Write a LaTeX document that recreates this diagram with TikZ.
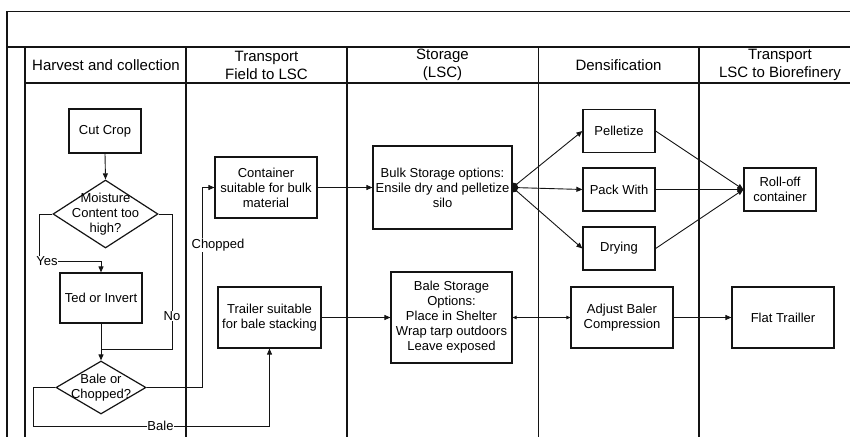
\documentclass[tikz,border=0pt]{standalone}
\usepackage{fontspec}
\setmainfont{Liberation Sans}
\usetikzlibrary{arrows.meta,shapes.geometric}

\begin{document}
\begin{tikzpicture}[x=1pt,y=-1pt,
  frame/.style={draw=black!92, line width=1.4pt},
  head/.style={align=center, font=\fontsize{15}{18}\selectfont, inner sep=0pt},
  box/.style={draw=black!92, line width=1.2pt, align=center, inner sep=0pt,
    font=\fontsize{13}{15}\selectfont},
  dia/.style={draw=black!92, line width=1.2pt, shape=diamond, inner sep=0pt},
  dtext/.style={align=center, inner sep=0pt, font=\fontsize{13}{15}\selectfont},
  lbl/.style={fill=white, inner sep=0.6pt, font=\fontsize{13}{15}\selectfont},
  conn/.style={draw=black!92, line width=0.9pt},
  arr/.style={conn, -{Triangle[length=6pt,width=5pt]}},
  fan/.style={conn, {Diamond[length=6pt,width=8pt]}-{Triangle[length=6pt,width=5pt]}},
  both/.style={conn, {Triangle[length=4pt,width=3.5pt]}-{Triangle[length=4pt,width=3.5pt]}}
]
\useasboundingbox (0,0) rectangle (850,436);
\clip (0,0) rectangle (850,436);

% swimlane frame
\draw[frame] (7,445) -- (7,11.5) -- (860,11.5);
\draw[frame] (7,47) -- (860,47);
\draw[frame] (25,445) -- (25,47);
\draw[frame] (25,83) -- (860,83);
\foreach \lx in {186,347,538.5,699} \draw[frame] (\lx,47) -- (\lx,445);

% lane headings
\node[head] (h1) at (106,65) {Harvest and collection};
\node[head] (h2) at (266.5,65) {Transport\\Field to LSC};
\node[head] (h3) at (442.5,65) {Storage\\(LSC)};
\node[head] (h4) at (618.5,65) {Densification};
\node[head] (h5) at (780,65) {Transport\\LSC to Biorefinery};

% harvest lane
\node[box, minimum width=72pt, minimum height=44pt] (cut) at (105,131) {Cut Crop};
\node[dia, minimum width=105pt, minimum height=68pt] (moist) at (105.5,214) {};
\node[dtext] (moisttxt) at (105.5,214) {Moisture\\Content too\\high?};
\node[box, minimum width=82pt, minimum height=50pt] (ted) at (101,298) {Ted or Invert};
\node[dia, minimum width=90pt, minimum height=53pt] (bdia) at (101,387.5) {};
\node[dtext] (bdiatxt) at (101,388) {Bale or\\Chopped?};

% field transport lane
\node[box, minimum width=102pt, minimum height=61pt] (cont) at (266,187.5) {Container\\suitable for bulk\\material};
\node[box, minimum width=103pt, minimum height=61pt] (trail) at (269.5,317.5) {Trailer suitable\\for bale stacking};

% storage lane
\node[box, minimum width=139pt, minimum height=83pt] (bulk) at (442.5,187.5) {Bulk Storage options:\\Ensile dry and pelletize\\silo};
\node[box, minimum width=121pt, minimum height=91pt] (balest) at (451.5,317.5) {Bale Storage\\Options:\\Place in Shelter\\Wrap tarp outdoors\\Leave exposed};

% densification lane
\node[box, minimum width=72pt, minimum height=43pt] (pell) at (619,131) {Pelletize};
\node[box, minimum width=72pt, minimum height=43pt] (pack) at (619,189.5) {Pack With};
\node[box, minimum width=72pt, minimum height=43pt] (dry) at (619,248.5) {Drying};
\node[box, minimum width=102pt, minimum height=61pt] (adj) at (622,317.5) {Adjust Baler\\Compression};

% biorefinery transport lane
\node[box, minimum width=72pt, minimum height=43pt] (roll) at (780,189.5) {Roll-off\\container};
\node[box, minimum width=102pt, minimum height=61pt] (flat) at (783,317.5) {Flat Trailler};

% harvest decisions
\draw[arr] (cut.south) -- (moist.north);
\draw[arr] (moist.west) -- (39,214) -- (39,261) -- (101,261) -- (ted.north);
\node[lbl] (yes) at (47,261) {Yes};
\draw[conn] (moist.east) -- (172,214) -- (172,349) -- (101,349);
\node[lbl] (no) at (172,316) {No};
\draw[arr] (ted.south) -- (bdia.north);
\draw[arr] (bdia.east) -- (202,387.5) -- (202,187.5) -- (cont.west);
\node[lbl] (chopped) at (218,245) {Chopped};
\draw[arr] (bdia.west) -- (33,387.5) -- (33,426) -- (269.5,426) -- (trail.south);
\node[lbl] (bale) at (160.5,426) {Bale};

% flows between lanes
\draw[arr] (cont.east) -- (bulk.west);
\draw[arr] (trail.east) -- (balest.west);
\draw[fan] (bulk.east) -- (pell.west);
\draw[fan] (bulk.east) -- (pack.west);
\draw[fan] (bulk.east) -- (dry.west);
\draw[arr] (pell.east) -- (roll.west);
\draw[arr] (pack.east) -- (roll.west);
\draw[arr] (dry.east) -- (roll.west);
\draw[both] (balest.east) -- (adj.west);
\draw[arr] (adj.east) -- (flat.west);
\end{tikzpicture}
\end{document}
